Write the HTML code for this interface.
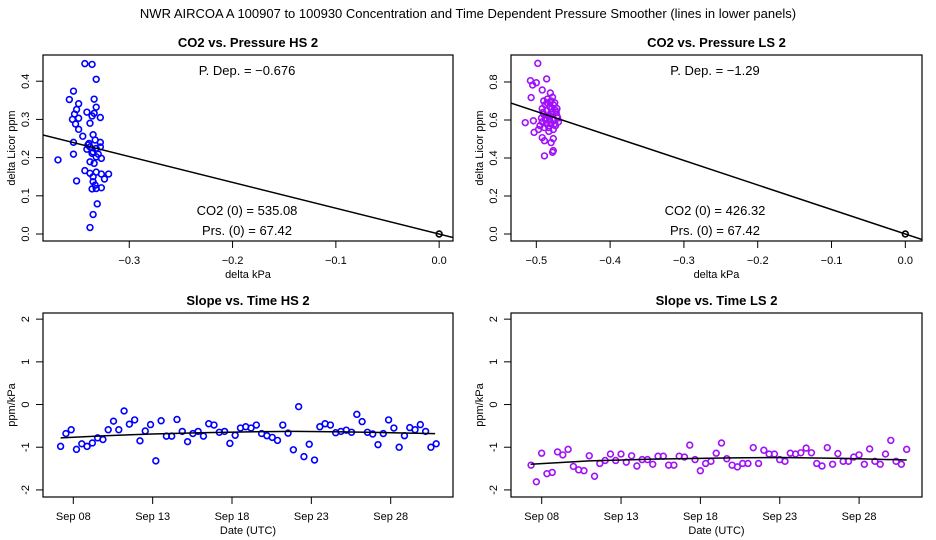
<!DOCTYPE html>
<html><head><meta charset="utf-8"><style>
html,body{margin:0;padding:0;background:#fff}
svg{display:block;font-family:"Liberation Sans",sans-serif}
</style></head><body>
<svg id="c" width="936" height="540" viewBox="0 0 936 540">
<text x="468" y="18" text-anchor="middle" font-size="13">NWR   AIRCOA A   100907 to 100930   Concentration and Time Dependent Pressure Smoother (lines in lower panels)</text>
</svg>
<script>
// ---- data ----
const hsScatterX=[-0.343,-0.336,-0.332,-0.354,-0.358,-0.334,-0.349,-0.332,-0.351,-0.341,-0.334,-0.336,-0.328,-0.353,-0.355,-0.349,-0.352,-0.338,-0.349,-0.345,-0.335,-0.333,-0.328,-0.354,-0.340,-0.338,-0.332,-0.335,-0.330,-0.327,-0.369,-0.338,-0.334,-0.354,-0.343,-0.338,-0.332,-0.327,-0.320,-0.324,-0.335,-0.335,-0.333,-0.336,-0.332,-0.327,-0.351,-0.331,-0.335,-0.338,-0.341,-0.336,-0.332,-0.328,-0.339];
const hsScatterY=[0.446,0.444,0.405,0.374,0.352,0.353,0.341,0.332,0.326,0.319,0.316,0.309,0.305,0.314,0.300,0.303,0.288,0.290,0.274,0.256,0.260,0.246,0.240,0.240,0.233,0.228,0.224,0.215,0.209,0.198,0.194,0.189,0.185,0.209,0.166,0.159,0.162,0.157,0.157,0.144,0.150,0.137,0.128,0.118,0.119,0.121,0.139,0.079,0.051,0.017,0.222,0.211,0.202,0.228,0.237];
const lsScatterX=[-0.498,-0.508,-0.500,-0.505,-0.486,-0.492,-0.481,-0.507,-0.515,-0.504,-0.503,-0.492,-0.489,-0.477,-0.480,-0.477,-0.478,-0.489,-0.490,-0.485,-0.480,-0.475,-0.488,-0.482,-0.477,-0.472,-0.492,-0.486,-0.480,-0.474,-0.490,-0.484,-0.478,-0.472,-0.488,-0.482,-0.476,-0.470,-0.492,-0.486,-0.480,-0.474,-0.489,-0.483,-0.477,-0.495,-0.497,-0.471,-0.479,-0.485,-0.473,-0.491,-0.481,-0.487,-0.475,-0.483,-0.478,-0.493];
const lsScatterY=[0.898,0.807,0.796,0.784,0.816,0.758,0.742,0.718,0.586,0.596,0.535,0.507,0.491,0.502,0.481,0.439,0.430,0.411,0.70,0.71,0.70,0.69,0.68,0.67,0.68,0.66,0.66,0.65,0.64,0.65,0.63,0.62,0.63,0.62,0.61,0.60,0.60,0.59,0.59,0.58,0.58,0.57,0.56,0.56,0.55,0.57,0.55,0.61,0.66,0.69,0.64,0.64,0.62,0.60,0.58,0.54,0.72,0.61];
const hsSlope=-0.676, lsSlope=-1.29;
const hsSeries=[-0.98,-0.68,-0.59,-1.05,-0.92,-0.98,-0.90,-0.78,-0.82,-0.59,-0.39,-0.59,-0.15,-0.46,-0.36,-0.85,-0.62,-0.47,-1.32,-0.38,-0.74,-0.74,-0.35,-0.63,-0.87,-0.68,-0.63,-0.74,-0.45,-0.48,-0.65,-0.63,-0.91,-0.72,-0.55,-0.52,-0.55,-0.48,-0.68,-0.73,-0.77,-0.84,-0.48,-0.67,-1.06,-0.05,-1.22,-0.93,-1.30,-0.52,-0.45,-0.48,-0.66,-0.63,-0.60,-0.65,-0.23,-0.40,-0.65,-0.69,-0.94,-0.68,-0.36,-0.55,-1.00,-0.73,-0.54,-0.59,-0.47,-0.63,-1.00,-0.92];
const lsSeries=[-1.42,-1.81,-1.14,-1.62,-1.59,-1.11,-1.18,-1.05,-1.45,-1.53,-1.55,-1.20,-1.68,-1.38,-1.31,-1.16,-1.31,-1.16,-1.35,-1.20,-1.44,-1.29,-1.29,-1.40,-1.21,-1.21,-1.42,-1.42,-1.21,-1.23,-0.95,-1.29,-1.55,-1.38,-1.33,-1.14,-0.90,-1.27,-1.42,-1.46,-1.38,-1.38,-1.01,-1.38,-1.07,-1.16,-1.16,-1.29,-1.33,-1.14,-1.16,-1.13,-1.02,-1.13,-1.38,-1.44,-1.01,-1.40,-1.15,-1.33,-1.33,-1.23,-1.18,-1.40,-1.04,-1.33,-1.40,-1.16,-0.84,-1.33,-1.40,-1.05];
const hsStart=7.2, lsStart=7.33, stepDays=1/3;
const hsSmoothT=[7.2,10,13,16,19,22,25,28,30.8];
const hsSmoothV=[-0.78,-0.73,-0.69,-0.66,-0.64,-0.63,-0.64,-0.66,-0.68];
const lsSmoothT=[7.3,11,15,20,23,27,31];
const lsSmoothV=[-1.40,-1.32,-1.28,-1.25,-1.24,-1.26,-1.30];
const dateTicks=[8,13,18,23,28];
const dateLabels=["Sep 08","Sep 13","Sep 18","Sep 23","Sep 28"];
const slopeTicks=[-2,-1,0,1,2];
const hsXTicks=[-0.3,-0.2,-0.1,0.0], hsYTicks=[0,0.1,0.2,0.3,0.4];
const lsXTicks=[-0.5,-0.4,-0.3,-0.2,-0.1,0.0], lsYTicks=[0,0.2,0.4,0.6,0.8];

const NS="http://www.w3.org/2000/svg", svg=document.getElementById('c');
function mk(tag,attrs,parent){const e=document.createElementNS(NS,tag);for(const k in attrs)e.setAttribute(k,attrs[k]);(parent||svg).appendChild(e);return e;}
function txt(s,attrs,parent){const e=mk('text',attrs,parent);e.textContent=s;return e;}
function fmt(v,d){return (v<0?'\u2212':'')+Math.abs(v).toFixed(d);}

function panel(o){
  const g=mk('g',{});
  
  
  const sx=v=>o.x0+(v-o.xmin)/(o.xmax-o.xmin)*(o.x1-o.x0);
  const sy=v=>o.y1-(v-o.ymin)/(o.ymax-o.ymin)*(o.y1-o.y0);
  const box=mk('rect',{x:o.x0,y:o.y0,width:o.x1-o.x0,height:o.y1-o.y0,fill:'none',stroke:'#000','stroke-width':1.2},g);
  
  
  const t=txt(o.title,{x:(o.x0+o.x1)/2,y:o.y0-8,'text-anchor':'middle','font-size':13,'font-weight':'bold'},g);
  
  
  // x axis
  const xa=mk('g',{},g);
  
  
  mk('line',{x1:sx(o.xt[0]),x2:sx(o.xt[o.xt.length-1]),y1:o.y1,y2:o.y1,stroke:'#000'},xa);
  o.xt.forEach((v,i)=>{const X=sx(v);mk('line',{x1:X,x2:X,y1:o.y1,y2:o.y1+7,stroke:'#000'},xa);
    const l=txt(o.xl[i],{x:X,y:o.y1+23,'text-anchor':'middle','font-size':11},xa);
    
    });
  const xt=txt(o.xtitle,{x:(o.x0+o.x1)/2,y:o.y1+37,'text-anchor':'middle','font-size':11},g);
  
  
  // y axis
  const ya=mk('g',{},g);
  
  
  mk('line',{x1:o.x0,x2:o.x0,y1:sy(o.yt[0]),y2:sy(o.yt[o.yt.length-1]),stroke:'#000'},ya);
  o.yt.forEach((v,i)=>{const Y=sy(v);mk('line',{x1:o.x0-7,x2:o.x0,y1:Y,y2:Y,stroke:'#000'},ya);
    const X=o.x0-14;
    const l=txt(o.yl[i],{x:X,y:Y,'text-anchor':'middle','font-size':11,transform:`rotate(-90 ${X} ${Y})`},ya);
    
    });
  const YX=o.x0-28, YY=(o.y0+o.y1)/2;
  const yt=txt(o.ytitle,{x:YX,y:YY,'text-anchor':'middle','font-size':11,transform:`rotate(-90 ${YX} ${YY})`},g);
  
  
  const clip='clip-'+o.name;
  const cp=mk('clipPath',{id:clip},g);mk('rect',{x:o.x0,y:o.y0,width:o.x1-o.x0,height:o.y1-o.y0},cp);
  const plot=mk('g',{'clip-path':`url(#${clip})`},g);
  
  
  return {g,sx,sy,plot};
}
function pts(p,xs,ys,color,name){
  xs.forEach((x,i)=>{const c=mk('circle',{cx:p.sx(x),cy:p.sy(ys[i]),r:2.9,fill:'none',stroke:color,'stroke-width':1.6},p.plot);
    
    });
}

// Top-left
const p1=panel({name:'co2-vs-pressure-hs2',title:'CO2 vs. Pressure HS 2',x0:43,x1:453,y0:55,y1:241,xmin:-0.3835,xmax:0.0134,ymin:-0.0183,ymax:0.4686,
  xt:hsXTicks,xl:hsXTicks.map(v=>fmt(v,1)),yt:hsYTicks,yl:hsYTicks.map(v=>v.toFixed(1)),xtitle:'delta kPa',ytitle:'delta Licor ppm'});
pts(p1,hsScatterX,hsScatterY,'#0000ff','hs-point');
const l1=mk('line',{x1:p1.sx(-0.3835),y1:p1.sy(hsSlope*-0.3835),x2:p1.sx(0.0134),y2:p1.sy(hsSlope*0.0134),stroke:'#000','stroke-width':1.5},p1.plot);


pts(p1,[0],[0],'#000','origin-point');
[['P. Dep. =  '+fmt(hsSlope,3),71],['CO2 (0) =  535.08',211],['Prs. (0) =  67.42',231]].forEach(a=>{const e=txt(a[0],{x:247,y:a[1]+4,'text-anchor':'middle','font-size':13},p1.g);
  
  });

// Top-right
const p2=panel({name:'co2-vs-pressure-ls2',title:'CO2 vs. Pressure LS 2',x0:511,x1:922,y0:55,y1:241,xmin:-0.5343,xmax:0.0226,ymin:-0.0368,ymax:0.942,
  xt:lsXTicks,xl:lsXTicks.map(v=>fmt(v,1)),yt:lsYTicks,yl:lsYTicks.map(v=>v.toFixed(1)),xtitle:'delta kPa',ytitle:'delta Licor ppm'});
pts(p2,lsScatterX,lsScatterY,'#a010f8','ls-point');
const l2=mk('line',{x1:p2.sx(-0.5343),y1:p2.sy(lsSlope*-0.5343),x2:p2.sx(0.0226),y2:p2.sy(lsSlope*0.0226),stroke:'#000','stroke-width':1.5},p2.plot);


pts(p2,[0],[0],'#000','origin-point');
[['P. Dep. =  '+fmt(lsSlope,2),71],['CO2 (0) =  426.32',211],['Prs. (0) =  67.42',231]].forEach(a=>{const e=txt(a[0],{x:715,y:a[1]+4,'text-anchor':'middle','font-size':13},p2.g);
  
  });

// Bottom panels
function timePanel(name,title,x0,x1,sep8x,series,start,st,sv,color,pn){
  const ppd=15.87, dmin=8-(sep8x-x0)/ppd, dmax=8+(x1-sep8x)/ppd;
  const p=panel({name,title,x0,x1,y0:313,y1:497,xmin:dmin,xmax:dmax,ymin:-2.1659,ymax:2.144,
    xt:dateTicks,xl:dateLabels,yt:slopeTicks,yl:slopeTicks.map(String),xtitle:'Date (UTC)',ytitle:'ppm/kPa'});
  const times=series.map((v,i)=>start+i*stepDays);
  pts(p,times,series,color,pn);
  const sm=mk('polyline',{points:st.map((t,i)=>p.sx(t)+','+p.sy(sv[i])).join(' '),fill:'none',stroke:'#000','stroke-width':1.5},p.plot);
  
  
}
timePanel('slope-vs-time-hs2','Slope vs. Time HS 2',43,453,73.3,hsSeries,hsStart,hsSmoothT,hsSmoothV,'#0000ff','hs-slope-point');
timePanel('slope-vs-time-ls2','Slope vs. Time LS 2',511,922,541.7,lsSeries,lsStart,lsSmoothT,lsSmoothV,'#a010f8','ls-slope-point');
</script>
</body></html>
